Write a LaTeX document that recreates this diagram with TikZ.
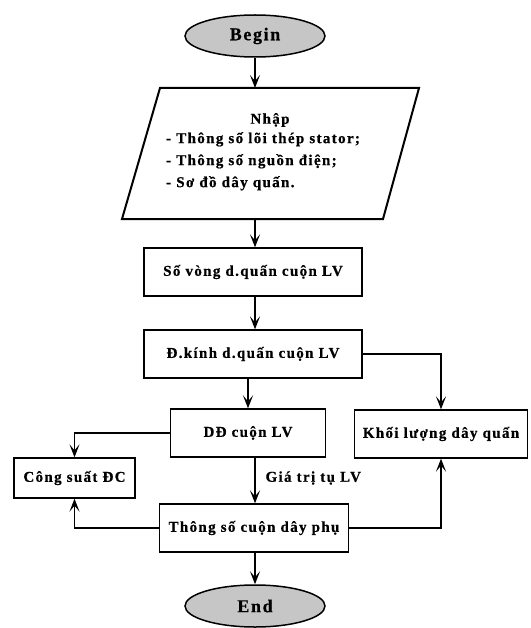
\documentclass[tikz,border=0pt]{standalone}
\usepackage{fontspec}
\setmainfont{Liberation Serif}[BoldFont={Liberation Serif Bold},BoldFeatures={FakeBold=0.6},LetterSpace=9.0]
\usepackage{tikz}
\usetikzlibrary{shapes,calc,arrows.meta}

\begin{document}
\begin{tikzpicture}[x=1pt,y=-1pt,
        every node/.style={font=\bfseries\fontsize{15}{22}\selectfont},
        box/.style={draw,line width=1.3pt,rectangle,minimum height=48pt,inner sep=0pt},
        term/.style={draw,ellipse,fill=gray!45,line width=1.5pt,minimum width=140pt,minimum height=42pt,inner sep=0pt,font=\bfseries\fontsize{18}{20}\selectfont},
        arr/.style={line width=1.5pt,-{Stealth[length=13pt,width=10pt,inset=6pt]}}]
        \useasboundingbox (0,0) rectangle (530,628);
        % \draw[step=10,gray!20,very thin] (0,0) grid (530,628);
        \node[term] (begin) at (255,36) {Begin};
        \draw[line width=2pt] (160,88) -- (419,88) -- (383,219) -- (122,219) -- cycle;
        \coordinate (intop) at (255,88);
        \coordinate (inbot) at (255,219);
        \node (nhap) at (270,120) {Nhập};
        \node[anchor=north west,align=left,inner sep=0pt] (inlist) at (166,132) {- Thông số lõi thép stator;\\- Thông số nguồn điện;\\- Sơ đồ dây quấn.};
        \node[box,minimum width=218pt] (turns) at (253,272) {Số vòng d.quấn cuộn LV};
        \node[box,minimum width=218pt] (diam) at (253,354) {Đ.kính d.quấn cuộn LV};
        \node[box,minimum width=155pt] (dd) at (248,433) {DĐ cuộn LV};
        \node[box,minimum width=173pt] (mass) at (441,434) {Khối lượng dây quấn};
        \node[box,minimum width=121pt,minimum height=40pt] (power) at (74.5,478) {Công suất ĐC};
        \node[box,minimum width=189pt] (aux) at (254,528) {Thông số cuộn dây phụ};
        \node[term] (end) at (255,606) {End};
        \node[anchor=west] (cap) at (262,478) {Giá trị tụ LV};
        \draw[arr] (begin) -- (intop);
        \draw[arr] (inbot) -- (inbot |- turns.north);
        \draw[arr] (turns.south -| inbot) -- (inbot |- diam.north);
        \draw[arr] (diam.south -| dd.south) -- (dd.north);
        \draw[arr] (diam.east) -| (mass.north);
        \draw[arr] (dd.west) -| (power.north);
        \draw[arr] (dd.south -| inbot) -- (aux.north -| inbot);
        \draw[arr] (aux.west) -| (power.south);
        \draw[arr] (aux.east) -| (mass.south);
        \draw[arr] (aux.south -| end) -- (end);
    \end{tikzpicture}
\end{document}
